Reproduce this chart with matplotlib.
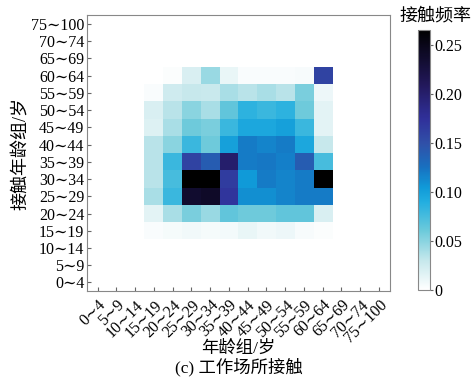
import numpy as np
import matplotlib
matplotlib.use('Agg')
import matplotlib.pyplot as plt
from matplotlib.colors import LinearSegmentedColormap

plt.rcParams['font.family'] = ['Liberation Serif', 'DejaVu Serif', 'Noto Sans CJK SC']

age_groups = ['0∼4', '5∼9', '10∼14', '15∼19', '20∼24', '25∼29', '30∼34', '35∼39',
              '40∼44', '45∼49', '50∼54', '55∼59', '60∼64', '65∼69', '70∼74', '75∼100']

# rows: contact age group 15~19 .. 60~64, columns: age group 15~19 .. 60~64
row_1519 = [0.004, 0.006, 0.008, 0.006, 0.007, 0.012, 0.008, 0.010, 0.005, 0.003]
row_2024 = [0.015, 0.040, 0.055, 0.045, 0.065, 0.060, 0.060, 0.065, 0.065, 0.020]
row_2529 = [0.040, 0.080, 0.235, 0.240, 0.170, 0.110, 0.110, 0.115, 0.120, 0.120]
row_3034 = [0.035, 0.075, 0.265, 0.265, 0.165, 0.105, 0.120, 0.115, 0.120, 0.265]
row_3539 = [0.035, 0.080, 0.160, 0.140, 0.200, 0.120, 0.122, 0.118, 0.140, 0.075]
row_4044 = [0.035, 0.050, 0.080, 0.060, 0.100, 0.120, 0.115, 0.120, 0.095, 0.030]
row_4549 = [0.018, 0.040, 0.060, 0.055, 0.080, 0.095, 0.095, 0.100, 0.080, 0.015]
row_5054 = [0.020, 0.035, 0.050, 0.040, 0.065, 0.085, 0.080, 0.085, 0.060, 0.015]
row_5559 = [0.004, 0.025, 0.030, 0.028, 0.040, 0.035, 0.040, 0.035, 0.055, 0.010]
row_6064 = [0.000, 0.003, 0.020, 0.045, 0.012, 0.004, 0.004, 0.004, 0.005, 0.160]

rows = [row_1519, row_2024, row_2529, row_3034, row_3539,
        row_4044, row_4549, row_5054, row_5559, row_6064]

mat = np.full((16, 16), np.nan)
for i, r in enumerate(rows):
    mat[3 + i, 3:13] = r

vmax = 0.265
stops = [(0.0, '#ffffff'), (0.03, '#c6e8ec'), (0.06, '#6ccadb'), (0.09, '#22aee0'),
         (0.105, '#109ad8'), (0.125, '#1870c0'), (0.15, '#3050a8'),
         (0.175, '#30309a'), (0.21, '#22185a'), (0.265, '#000000')]
cmap = LinearSegmentedColormap.from_list('contact', [(v / vmax, c) for v, c in stops])
cmap.set_bad('white')

fig = plt.figure(figsize=(4.73, 3.81), dpi=100)
ax = fig.add_axes([0.184, 0.235, 0.641, 0.726])
cax = fig.add_axes([0.884, 0.238, 0.025, 0.683])

im = ax.imshow(np.ma.masked_invalid(mat), cmap=cmap, vmin=0, vmax=vmax,
               origin='lower', aspect='auto')
ax.set_xlim(-0.57, 15.6)
ax.set_ylim(-0.52, 15.52)

fs = 11.5
ax.set_xticks(range(16))
ax.set_xticklabels(age_groups, rotation=45, ha='right', rotation_mode='anchor', fontsize=fs)
ax.set_yticks(range(16))
ax.set_yticklabels(age_groups, fontsize=fs)
ax.tick_params(direction='in', length=3, color='#666666', pad=2)
ax.tick_params(axis='x', pad=4)
for s in ax.spines.values():
    s.set_color('#888888')
    s.set_linewidth(0.8)

ax.set_ylabel('接触年龄组/岁', fontsize=13, labelpad=1)
ax.set_xlabel('年龄组/岁', fontsize=12.5, labelpad=-4)
fig.text(0.5 * (0.184 + 0.825), 0.012, '(c) 工作场所接触', ha='center', va='bottom',
         fontsize=12.5)

cb = fig.colorbar(im, cax=cax)
cb.set_ticks([0, 0.05, 0.10, 0.15, 0.20, 0.25])
cb.set_ticklabels(['0', '0.05', '0.10', '0.15', '0.20', '0.25'])
cb.ax.tick_params(labelsize=fs, length=2, color='#666666', pad=1)
cb.outline.set_edgecolor('#888888')
cb.outline.set_linewidth(0.8)
fig.text(0.92, 0.945, '接触频率', ha='center', fontsize=13)

fig.savefig('out.png', dpi=100)
